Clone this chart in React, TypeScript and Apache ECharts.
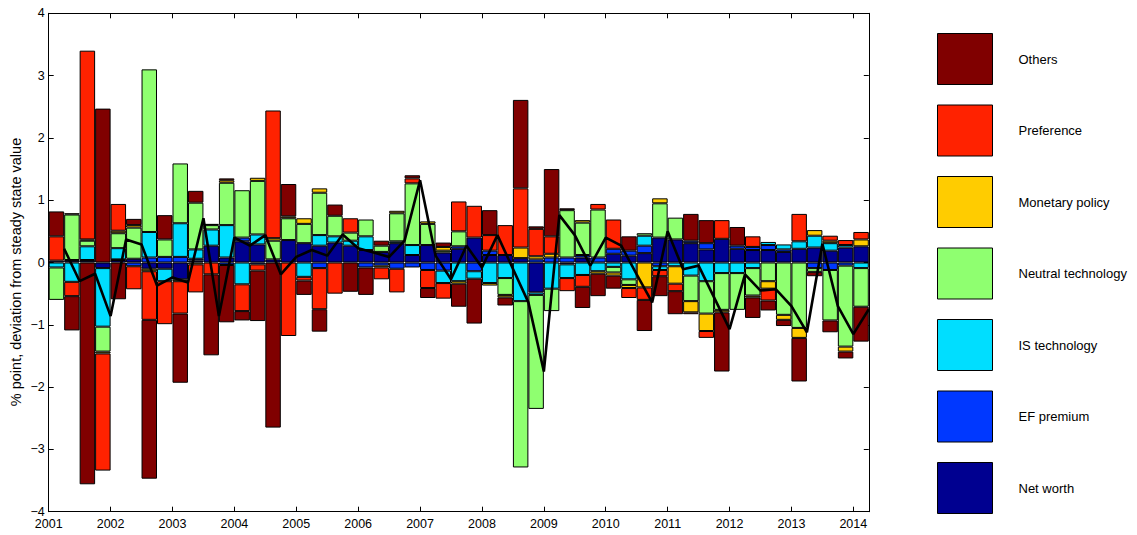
import React, { useEffect, useRef } from 'react';
import * as echarts from 'echarts';

const years = [2001, 2002, 2003, 2004, 2005, 2006, 2007, 2008, 2009, 2010, 2011, 2012, 2013, 2014];
const quarterNames = ['Q1', 'Q2', 'Q3', 'Q4'];

const netWorth = [0.03, 0.03, 0.03, -0.09, 0.04, 0.06, -0.10, -0.10, -0.27, 0.03, 0.27, 0.08, 0.34, 0.29, 0.05, 0.36, 0.31, 0.27, 0.32, 0.27, 0.20, 0.17, 0.31, 0.12, 0.28, 0.16, 0.22, 0.40, 0.12, 0.12, 0.07, -0.48, 0, -0.03, 0.08, 0, 0.14, 0.11, 0.15, 0.40, 0.37, 0.31, 0.21, 0.38, 0.22, 0.20, 0.20, 0.17, 0.22, 0.24, 0.19, 0.24, 0.26];
const efPremium = [0, 0.01, 0.01, 0, 0.01, -0.06, 0.08, 0.09, 0.09, 0.03, 0, -0.04, 0.06, -0.03, 0, 0, 0, -0.09, 0, 0, -0.08, -0.05, -0.10, -0.08, -0.12, -0.13, 0.04, -0.14, 0.07, 0, 0, 0.05, 0.08, 0.08, 0.04, 0.08, 0.08, 0.08, 0.12, -0.06, 0, 0.04, 0.10, 0, 0.05, 0.05, 0.08, 0.04, 0, -0.09, -0.12, -0.05, 0];
const isTech = [-0.08, -0.31, 0.22, -0.94, 0.18, 0, 0.41, -0.20, 0.54, 0.15, 0.26, 0.52, -0.35, 0.16, 0, 0, -0.23, 0.17, 0.10, 0.08, 0.22, 0, 0.03, 0.16, 0, -0.20, -0.30, -0.12, -0.33, -0.25, -0.62, -0.04, -0.42, -0.22, -0.20, -0.14, -0.07, -0.27, 0.16, -0.06, -0.06, -0.21, -0.30, -0.17, -0.17, -0.09, 0.05, 0.08, 0.12, 0.19, 0.12, 0.04, -0.09];
const neutralTech = [-0.52, 0.73, 0.09, -0.40, 0.24, 0.50, 2.61, 0.28, 0.96, 0.75, 0.07, 0.68, 0.76, 0.86, 0.30, 0.35, 0.31, 0.68, 0.33, 0.13, 0.27, 0.10, 0.45, 0.99, 0.34, 0.03, 0.24, 0, 0, -0.27, -2.67, -1.83, -0.36, 0.76, 0.52, 0.77, -0.09, -0.09, 0.04, 0.55, 0.35, -0.41, -0.52, -0.59, -0.59, -0.44, -0.30, -0.84, -1.05, -0.06, -0.81, -1.30, -0.62];
const monetary = [0, 0.02, 0.02, -0.03, 0.04, 0.04, -0.04, 0, -0.03, -0.03, 0.02, 0.04, 0, 0.05, 0.04, 0.03, 0.09, 0.07, 0, 0, 0, -0.03, 0.04, 0, 0.04, 0.06, -0.04, 0, -0.04, -0.04, 0.17, 0.05, 0.06, 0, 0.04, -0.04, -0.05, -0.05, -0.40, 0.08, -0.28, -0.18, -0.28, -0.04, 0, -0.03, -0.12, -0.08, -0.16, 0.09, 0.04, -0.08, 0.11];
const preference = [0.39, -0.23, 3.03, -1.88, 0.43, -0.37, -0.78, -0.69, -0.52, -0.45, -0.19, 0.03, -0.43, -0.10, 2.05, -1.18, -0.06, -0.66, -0.50, 0.23, 0, -0.19, -0.38, 0.08, -0.29, -0.25, 0.48, 0.51, 0.25, 0.48, 0.95, 0.44, 0.28, -0.21, -0.19, 0.09, 0.47, -0.16, -0.20, -0.10, -0.12, -0.03, -0.11, 0.30, 0, 0.17, -0.19, 0, 0.44, 0, 0.08, 0.08, 0.12];
const others = [0.40, -0.55, -3.56, 2.47, -0.59, 0.10, -2.55, 0.39, -1.11, 0.19, -1.30, -0.92, -0.15, -0.81, -2.65, 0.52, -0.23, -0.36, 0.18, -0.47, -0.44, 0.08, 0, 0.05, -0.16, 0.07, -0.37, -0.72, 0.40, -0.13, 1.42, 0.04, 1.08, 0.03, -0.34, -0.36, -0.21, 0.23, -0.50, -0.32, -0.37, 0.43, 0.37, -0.95, 0.30, -0.33, -0.16, -0.10, -0.70, -0.07, -0.19, -0.11, -0.56];
const total = [0.22, -0.30, -0.18, -0.86, 0.37, 0.29, -0.37, -0.24, -0.32, 0.71, -0.86, 0.40, 0.27, 0.44, -0.19, 0.09, 0.20, 0.11, 0.45, 0.23, 0.16, 0.09, 0.35, 1.32, 0.11, -0.27, 0.27, -0.08, 0.44, -0.10, -0.64, -1.75, 0.76, 0.44, -0.05, 0.40, 0.27, -0.19, -0.64, 0.50, -0.11, -0.05, -0.56, -1.07, -0.19, -0.45, -0.43, -0.70, -1.12, 0.30, -0.70, -1.15, -0.75];

const seriesDefs = [
  { name: 'Net worth', data: netWorth, color: '#000090' },
  { name: 'EF premium', data: efPremium, color: '#0038ff' },
  { name: 'IS technology', data: isTech, color: '#00deff' },
  { name: 'Neutral technology', data: neutralTech, color: '#8fff70' },
  { name: 'Monetary policy', data: monetary, color: '#ffcc00' },
  { name: 'Preference', data: preference, color: '#ff2200' },
  { name: 'Others', data: others, color: '#800000' },
];

const FONT = '"Liberation Sans", Arial, Helvetica, sans-serif';

export default function App() {
  const ref = useRef<HTMLDivElement>(null);
  useEffect(() => {
    if (!ref.current) return;
    const chart = echarts.init(ref.current, undefined, { renderer: 'svg' });
    const quarters: string[] = [];
    years.forEach((y) => quarterNames.forEach((q) => quarters.push(`${y}${q}`)));
    const nBars = total.length;
    const cats = quarters.slice(0, nBars);
    const endOfQuarter = cats.map((_, i) => years[0] + (i + 1) / 4);

    const axisCommon = {
      axisLine: { show: true, onZero: false, lineStyle: { color: '#000', width: 1 } },
      axisTick: { show: true, inside: true, length: 5, lineStyle: { color: '#000', width: 1 } },
      splitLine: { show: false },
    };
    const xMin = years[0];
    const xMax = years[0] + nBars / 4;

    const option: any = {
      animation: false,
      backgroundColor: '#fff',
      grid: { left: 48.7, top: 13.3, width: 820.1, height: 498.4 },
      legend: {
        orient: 'vertical',
        left: 937,
        top: 33,
        padding: 0,
        itemWidth: 55,
        itemHeight: 51,
        itemGap: 19.5,
        icon: 'rect',
        selectedMode: false,
        data: seriesDefs.map((s) => s.name).reverse(),
        textStyle: { fontSize: 13, fontFamily: FONT, color: '#000', padding: [0, 0, 0, 21] },
        itemStyle: { borderColor: '#000', borderWidth: 1 },
      },
      xAxis: [
        { type: 'category', data: cats, show: false, boundaryGap: true, position: 'bottom' },
        {
          type: 'value', position: 'bottom', min: xMin, max: xMax, interval: 1, ...axisCommon,
          axisLabel: {
            color: '#000', fontSize: 12.5, fontFamily: FONT, margin: 6,
            formatter: (v: number) => (Number.isInteger(v) ? String(v) : ''),
          },
        },
        {
          type: 'value', position: 'top', min: xMin, max: xMax, interval: 1, ...axisCommon,
          axisLabel: { show: false },
        },
      ],
      yAxis: [
        {
          type: 'value', position: 'left', min: -4, max: 4, interval: 1, ...axisCommon,
          axisLabel: {
            color: '#000', fontSize: 12.5, fontFamily: FONT, margin: 4,
            formatter: (v: number) => (v < 0 ? '\u2212' + Math.abs(v) : String(v)),
          },
        },
        {
          type: 'value', position: 'right', min: -4, max: 4, interval: 1, ...axisCommon,
          axisLabel: { show: false },
        },
      ],
      graphic: [
        {
          type: 'text',
          x: 16,
          y: 272,
          rotation: Math.PI / 2,
          style: {
            text: '% point, deviation from steady state value',
            font: `14.5px ${FONT}`,
            fill: '#000',
            align: 'center',
            verticalAlign: 'middle',
          },
        },
      ],
      series: [
        ...seriesDefs.map((s) => ({
          type: 'bar',
          name: s.name,
          stack: 'total',
          xAxisIndex: 0,
          yAxisIndex: 0,
          barCategoryGap: '0%',
          data: s.data.map((v) => (v === 0 ? '-' : v)),
          itemStyle: { color: s.color, borderColor: '#000', borderWidth: 1 },
        })),
        {
          type: 'line',
          name: 'Total',
          xAxisIndex: 1,
          yAxisIndex: 0,
          data: total.map((v, i) => [endOfQuarter[i], v]),
          symbol: 'none',
          lineStyle: { color: '#000', width: 2.6 },
          itemStyle: { color: '#000' },
          z: 10,
        },
      ],
    };
    chart.setOption(option);
    return () => chart.dispose();
  }, []);
  return <div ref={ref} style={{ position: 'absolute', left: 0, top: 0, width: 1137, height: 535 }} />;
}
